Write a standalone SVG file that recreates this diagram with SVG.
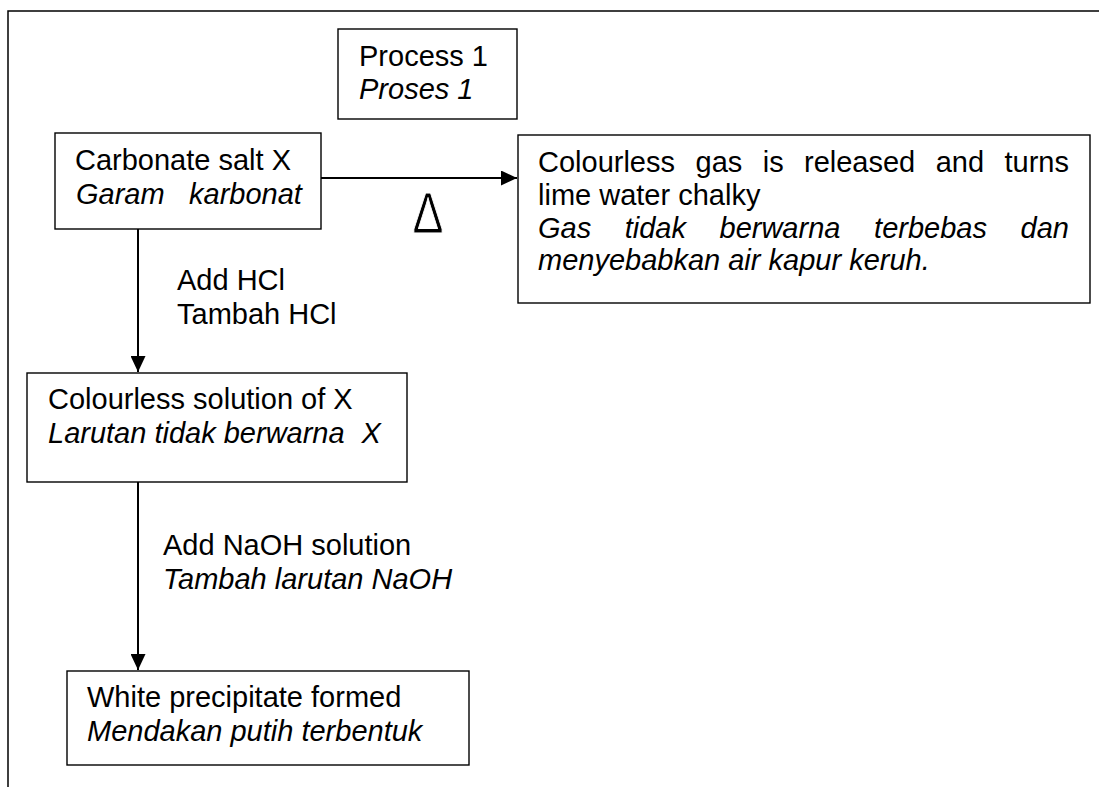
<svg xmlns="http://www.w3.org/2000/svg" width="1099" height="787" viewBox="0 0 1099 787">
<style>
.box{fill:#fff;stroke:#000;stroke-width:1.4}
.t{font-family:"Liberation Sans",Arial,sans-serif;font-size:29px;fill:#000}
.i{font-style:italic}
.conn{stroke:#000;stroke-width:2;fill:none}
</style>
<defs>
<marker id="ah" markerUnits="userSpaceOnUse" markerWidth="16" markerHeight="15" refX="16" refY="7.5" orient="auto">
<path d="M0,0 L16,7.5 L0,15 z" fill="#000"/>
</marker>
</defs>
<rect width="1099" height="787" fill="#fff"/>
<path d="M8,787 V11 H1099" fill="none" stroke="#000" stroke-width="1.5"/>
<g id="process1">
<rect class="box" x="338" y="29" width="179" height="90"/>
<text class="t" x="359" y="66">Process 1</text>
<text class="t i" x="359" y="99">Proses 1</text>
</g>
<g id="carbonate">
<rect class="box" x="55" y="133" width="266" height="96"/>
<text class="t" x="75" y="170">Carbonate salt X</text>
<text class="t i" y="204"><tspan x="76">Garam</tspan><tspan x="189">karbonat</tspan></text>
</g>
<g id="gas">
<rect class="box" x="518" y="135" width="572" height="168"/>
<text class="t" y="172"><tspan x="538">Colourless</tspan><tspan x="695.6">gas</tspan><tspan x="762.7">is</tspan><tspan x="804">released</tspan><tspan x="935.7">and</tspan><tspan x="1004.5">turns</tspan></text>
<text class="t" x="538" y="205">lime water chalky</text>
<text class="t i" y="238"><tspan x="538">Gas</tspan><tspan x="624.7">tidak</tspan><tspan x="719.5">berwarna</tspan><tspan x="874.1">terbebas</tspan><tspan x="1020.6">dan</tspan></text>
<text class="t i" x="538" y="270">menyebabkan air kapur keruh.</text>
</g>
<g id="solution">
<rect class="box" x="27" y="373" width="380" height="109"/>
<text class="t" x="48" y="409">Colourless solution of X</text>
<text class="t i" y="443"><tspan x="48">Larutan tidak berwarna</tspan><tspan x="361.5">X</tspan></text>
</g>
<g id="precipitate">
<rect class="box" x="67" y="671" width="402" height="94"/>
<text class="t" x="87" y="707">White precipitate formed</text>
<text class="t i" x="87" y="741">Mendakan putih terbentuk</text>
</g>
<g id="connectors">
<line class="conn" x1="321" y1="178" x2="517" y2="178" marker-end="url(#ah)"/>
<line class="conn" x1="138" y1="229" x2="138" y2="372" marker-end="url(#ah)"/>
<line class="conn" x1="138" y1="482" x2="138" y2="670" marker-end="url(#ah)"/>
</g>
<g id="labels">
<text class="t" transform="translate(428 232.5) scale(0.8 1)" text-anchor="middle" style="font-size:58px;stroke:#fff;stroke-width:1">Δ</text>
<text class="t" x="177" y="290">Add HCl</text>
<text class="t" x="177" y="324">Tambah HCl</text>
<text class="t" x="163" y="555">Add NaOH solution</text>
<text class="t i" x="163" y="589">Tambah larutan NaOH</text>
</g>
</svg>
